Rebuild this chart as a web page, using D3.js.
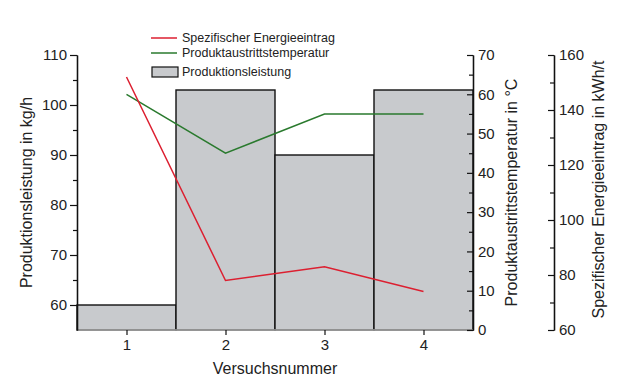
<!DOCTYPE html>
<html>
<head>
<meta charset="utf-8">
<script src="https://cdn.jsdelivr.net/npm/d3@7"></script>
<style>
  body { margin: 0; background: #fff; }
  svg text { font-family: "Liberation Sans", Arial, sans-serif; fill: #222; }
</style>
</head>
<body>
<div id="grafico"></div>
<script>
// Datos
const versuche = [1, 2, 3, 4];
const produktionsleistung = [60, 103, 90, 103];      // kg/h
const austrittstemperatur = [60, 45, 55, 55];        // °C
const energieeintrag = [152, 78, 83, 74];            // kWh/t

const ticksLinks = [60, 70, 80, 90, 100, 110];
const ticksTemp = [0, 10, 20, 30, 40, 50, 60, 70];
const ticksEnergie = [60, 80, 100, 120, 140, 160];

const breite = 630, hoehe = 386;
const rLinks = 77, rRechts = 473, rOben = 55, rUnten = 330;
const achse3 = 554;

const svg = d3.select('#grafico')
    .append('svg')
    .attr('width', breite)
    .attr('height', hoehe);

// Skalen
const x = d3.scaleLinear().domain([0.5, 4.5]).range([rLinks, rRechts]);
const yL = d3.scaleLinear().domain([55, 110]).range([rUnten, rOben]);
const yT = d3.scaleLinear().domain([0, 70]).range([rUnten, rOben]);
const yE = d3.scaleLinear().domain([60, 160]).range([rUnten, rOben]);

// Balken
svg.append('g').selectAll('rect')
    .data(versuche)
    .join('rect')
    .attr('x', d => x(d - 0.5))
    .attr('y', (d, i) => yL(produktionsleistung[i]))
    .attr('width', d => x(d + 0.5) - x(d - 0.5))
    .attr('height', (d, i) => rUnten - yL(produktionsleistung[i]))
    .attr('fill', '#c8cacd')
    .attr('stroke', '#111')
    .attr('stroke-width', 1.4);

// Linie unten (hellgrau)
svg.append('line')
    .attr('x1', rLinks).attr('x2', rRechts)
    .attr('y1', rUnten).attr('y2', rUnten)
    .attr('stroke', '#aaa').attr('stroke-width', 1.5);

// Linien
const linieT = d3.line().x((d, i) => x(versuche[i])).y(d => yT(d));
const linieE = d3.line().x((d, i) => x(versuche[i])).y(d => yE(d));

svg.append('path')
    .datum(austrittstemperatur)
    .attr('d', linieT)
    .attr('fill', 'none')
    .attr('stroke', '#2a7a2e')
    .attr('stroke-width', 1.5);

svg.append('path')
    .datum(energieeintrag)
    .attr('d', linieE)
    .attr('fill', 'none')
    .attr('stroke', '#dc1f30')
    .attr('stroke-width', 1.5);

// Achsen
function stil(g) {
    g.select('.domain').attr('stroke', '#111').attr('stroke-width', 1.3);
    g.selectAll('.tick line').attr('stroke', '#111').attr('stroke-width', 1.2);
    g.selectAll('text').attr('font-size', '15px').attr('fill', '#222')
        .attr('font-family', '"Liberation Sans", Arial, sans-serif');
}

function nebenTicks(ticks) {
    const out = [];
    for (let i = 0; i < ticks.length - 1; i++) out.push((ticks[i] + ticks[i + 1]) / 2);
    return out;
}

// links
svg.append('g')
    .attr('transform', `translate(${rLinks},0)`)
    .call(d3.axisLeft(yL).tickValues(nebenTicks(ticksLinks)).tickFormat('').tickSizeInner(4).tickSizeOuter(0))
    .call(stil);
svg.append('g')
    .attr('transform', `translate(${rLinks},0)`)
    .call(d3.axisLeft(yL).tickValues(ticksLinks).tickSizeInner(7).tickSizeOuter(0).tickPadding(3))
    .call(stil);

// rechts (Temperatur)
svg.append('g')
    .attr('transform', `translate(${rRechts},0)`)
    .call(d3.axisRight(yT).tickValues(nebenTicks(ticksTemp)).tickFormat('').tickSizeInner(-4).tickSizeOuter(0))
    .call(stil);
svg.append('g')
    .attr('transform', `translate(${rRechts},0)`)
    .call(d3.axisRight(yT).tickValues(ticksTemp).tickSizeInner(-6).tickSizeOuter(0).tickPadding(5))
    .call(stil);

// dritte Achse (Energie)
svg.append('g')
    .attr('transform', `translate(${achse3},0)`)
    .call(d3.axisRight(yE).tickValues(nebenTicks(ticksEnergie)).tickFormat('').tickSizeInner(-4).tickSizeOuter(0))
    .call(stil);
svg.append('g')
    .attr('transform', `translate(${achse3},0)`)
    .call(d3.axisRight(yE).tickValues(ticksEnergie).tickSizeInner(-6).tickSizeOuter(0).tickPadding(5))
    .call(stil);

// unten
const ax = svg.append('g')
    .attr('transform', `translate(0,${rUnten})`)
    .call(d3.axisBottom(x).tickValues(versuche).tickFormat(d3.format('d')).tickSizeInner(5).tickSizeOuter(0).tickPadding(4))
    .call(stil);
ax.select('.domain').remove();

// Achsentitel
const titel = 16;
svg.append('text')
    .attr('transform', `translate(32,${(rOben + rUnten) / 2}) rotate(-90)`)
    .attr('text-anchor', 'middle')
    .attr('font-size', titel + 'px')
    .text('Produktionsleistung in kg/h');

svg.append('text')
    .attr('transform', `translate(517,${(rOben + rUnten) / 2}) rotate(-90)`)
    .attr('text-anchor', 'middle')
    .attr('font-size', titel + 'px')
    .text('Produktaustrittstemperatur in °C');

svg.append('text')
    .attr('transform', `translate(604,${(rOben + rUnten) / 2 - 3}) rotate(-90)`)
    .attr('text-anchor', 'middle')
    .attr('font-size', titel + 'px')
    .text('Spezifischer Energieeintrag in kWh/t');

svg.append('text')
    .attr('x', (rLinks + rRechts) / 2)
    .attr('y', 374)
    .attr('text-anchor', 'middle')
    .attr('font-size', titel + 'px')
    .text('Versuchsnummer');

// Legende
const legende = [
    { name: 'Spezifischer Energieeintrag', typ: 'linie', farbe: '#dc1f30' },
    { name: 'Produktaustrittstemperatur', typ: 'linie', farbe: '#2a7a2e' },
    { name: 'Produktionsleistung', typ: 'box', farbe: '#c8cacd' }
];
const ly = [38, 53, 72];
const lg = svg.append('g');
legende.forEach((d, i) => {
    if (d.typ === 'linie') {
        lg.append('line')
            .attr('x1', 151).attr('x2', 177)
            .attr('y1', ly[i]).attr('y2', ly[i])
            .attr('stroke', d.farbe).attr('stroke-width', 1.5);
    } else {
        lg.append('rect')
            .attr('x', 152).attr('y', ly[i] - 5)
            .attr('width', 26).attr('height', 10)
            .attr('fill', d.farbe).attr('stroke', '#111').attr('stroke-width', 1.2);
    }
    lg.append('text')
        .attr('x', 182).attr('y', ly[i])
        .attr('dy', '0.35em')
        .attr('font-size', '12.5px')
        .text(d.name);
});
</script>
</body>
</html>
